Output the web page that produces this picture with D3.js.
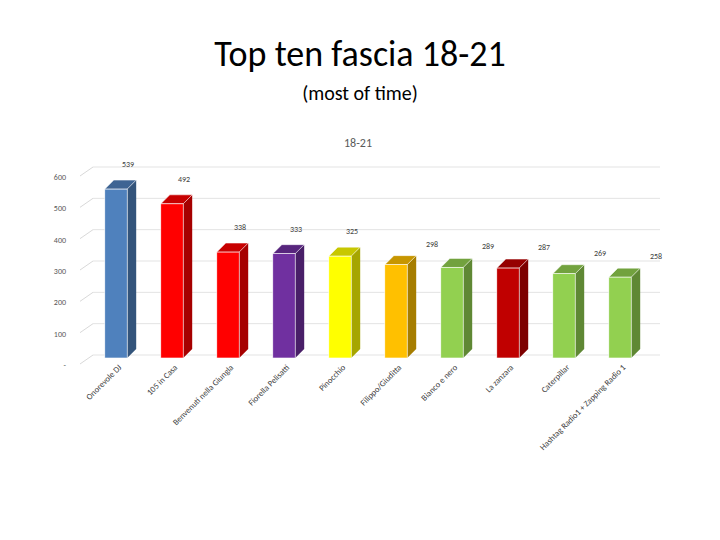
<!DOCTYPE html>
<html><head><meta charset="utf-8">
<script src="https://cdn.jsdelivr.net/npm/d3@7"></script>
<style>body{margin:0;background:#fff}</style>
</head><body><div class="chart"></div>
<script>
const width = 720
const height = 540

const categories = ["Onorevole DJ", "105 in Casa", "Benvenuti nella Giungla", "Fiorella Pelisatti", "Pinocchio",
    "Filippo/Giuditta", "Bianco e nero", "La zanzara", "Caterpillar", "Hashtag Radio1 + Zapping Radio 1"]
const values = [539, 492, 338, 333, 325, 298, 289, 287, 269, 258]
const colors = ["#4f81bd", "#ff0000", "#ff0000", "#7030a0", "#ffff00", "#ffc000", "#92d050", "#c00000", "#92d050", "#92d050"]
const ticks = [0, 100, 200, 300, 400, 500, 600]

const svg = d3.select(".chart").append("svg")
    .attr("width", width).attr("height", height)
    .style("font-family", "Calibri, Carlito, 'Liberation Sans', sans-serif")

svg.append("text").attr("x", 360).attr("y", 66).attr("text-anchor", "middle")
    .attr("font-size", 36).text("Top ten fascia 18-21")
svg.append("text").attr("x", 360).attr("y", 100).attr("text-anchor", "middle")
    .attr("font-size", 20).text("(most of time)")
svg.append("text").attr("x", 358).attr("y", 147).attr("text-anchor", "middle")
    .attr("font-size", 12).attr("fill", "#595959").text("18-21")

const depth = 9
const xScale = d3.scaleBand().domain(categories).range([88, 648]).paddingInner(0.6).paddingOuter(0.3)
const yScale = d3.scaleLinear().domain([0, 600]).range([358, 170])

// gridlines with perspective corner
const grid = svg.append("g")
ticks.forEach(t => {
    const y = yScale(t)
    grid.append("line").attr("x1", 80).attr("y1", y + 6).attr("x2", 80 + depth + 4).attr("y2", y - depth + 6)
        .attr("stroke", "#d9d9d9")
    grid.append("line").attr("x1", 80 + depth + 4).attr("y1", y - depth + 6).attr("x2", 660).attr("y2", y - depth + 6)
        .attr("stroke", "#e3e3e3")
    svg.append("text").attr("x", 66).attr("y", y + 10).attr("text-anchor", "end")
        .attr("font-size", 8).attr("fill", "#595959").text(t === 0 ? "-" : t)
})

const bars = svg.append("g").selectAll("g").data(values).enter().append("g")
const bw = xScale.bandwidth()
bars.each(function(d, i) {
    const g = d3.select(this)
    const x = xScale(categories[i]), y = yScale(d), y0 = yScale(0), c = d3.color(colors[i])
    g.append("polygon").attr("fill", c.darker(1.2))
        .attr("points", `${x + bw},${y} ${x + bw + depth},${y - depth} ${x + bw + depth},${y0 - depth} ${x + bw},${y0}`)
    g.append("polygon").attr("fill", c.darker(0.7)).attr("stroke", "#fff").attr("stroke-width", 0.5)
        .attr("points", `${x},${y} ${x + depth},${y - depth} ${x + bw + depth},${y - depth} ${x + bw},${y}`)
    g.append("rect").attr("x", x).attr("y", y).attr("width", bw).attr("height", y0 - y)
        .attr("fill", colors[i]).attr("stroke", "#fff").attr("stroke-width", 0.6)
    g.append("text").attr("x", x + bw / 2 + (i > 4 ? 36 : 12)).attr("y", y - (i > 4 ? 18 : 22))
        .attr("text-anchor", "middle").attr("font-size", 8).attr("fill", "#404040").text(d)
})

// category labels
categories.forEach(c => {
    const x = xScale(c) + bw / 2 + 6
    svg.append("text").attr("transform", `translate(${x},${368}) rotate(-45)`)
        .attr("text-anchor", "end").attr("font-size", 8.5).attr("fill", "#404040").text(c)
})
</script></body></html>
